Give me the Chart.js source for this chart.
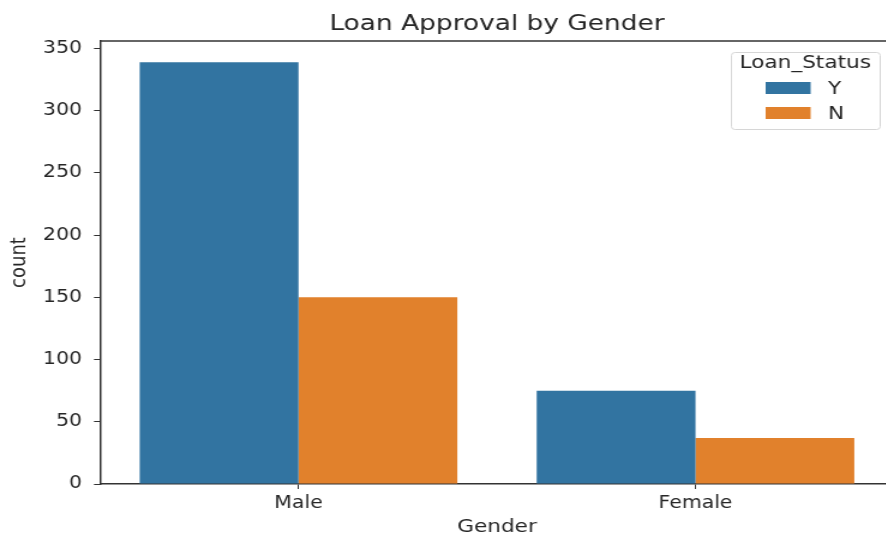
<!DOCTYPE html>
<html lang="en">
<head>
    <meta charset="UTF-8">
    <title>Loan Approval by Gender</title>
    <script src="https://cdn.jsdelivr.net/npm/chart.js"></script>
    <style>
        body { margin: 0; padding: 0; background: #ffffff; overflow: hidden; }
        /* the source picture is stretched sideways, so the whole chart is too */
        #wrap { width: 750px; height: 538px; transform: scaleX(1.2); transform-origin: 0 0; }
    </style>
</head>
<body>
    <div id="wrap">
        <canvas id="loanChart" width="750" height="538"></canvas>
    </div>

    <script>
        const genders = ["Male", "Female"];
        const statusLabels = ["Y", "N"];
        const countY = [339, 75];
        const countN = [150, 37];
        const yTicks = [0, 50, 100, 150, 200, 250, 300, 350];

        const blue = "#3274a1";
        const orange = "#e1812c";
        const ink = "#262626";
        const font = "'DejaVu Sans', sans-serif";

        // title, top spine and legend box drawn by hand
        const extras = {
            id: "extras",
            afterDraw(chart) {
                const ctx = chart.ctx;
                const area = chart.chartArea;
                ctx.save();

                ctx.strokeStyle = "#333";
                ctx.lineWidth = 1.5;
                ctx.beginPath();
                ctx.moveTo(area.left, area.top);
                ctx.lineTo(area.right, area.top);
                ctx.stroke();

                ctx.fillStyle = ink;
                ctx.font = "22px " + font;
                ctx.textAlign = "center";
                ctx.textBaseline = "middle";
                ctx.fillText("Loan Approval by Gender", (area.left + area.right) / 2, 24);

                // legend
                const lx = 609, ly = 52, lw = 124, lh = 77;
                ctx.fillStyle = "rgba(255,255,255,0.8)";
                ctx.strokeStyle = "#d6d6d6";
                ctx.lineWidth = 1;
                ctx.beginPath();
                ctx.roundRect(lx + 0.5, ly + 0.5, lw, lh, 3);
                ctx.fill();
                ctx.stroke();

                ctx.fillStyle = ink;
                ctx.font = "18px " + font;
                ctx.textAlign = "center";
                ctx.fillText("Loan_Status", lx + lw / 2, ly + 11);

                const colors = [blue, orange];
                statusLabels.forEach((lab, i) => {
                    const cy = ly + 36 + i * 25;
                    ctx.fillStyle = colors[i];
                    ctx.fillRect(638, cy - 6, 37.5, 12);
                    ctx.fillStyle = ink;
                    ctx.textAlign = "left";
                    ctx.fillText(lab, 690, cy + 1);
                });

                ctx.restore();
            }
        };

        new Chart(document.getElementById("loanChart"), {
            type: "bar",
            data: {
                labels: genders,
                datasets: [
                    { label: statusLabels[0], data: countY, backgroundColor: blue },
                    { label: statusLabels[1], data: countN, backgroundColor: orange }
                ]
            },
            options: {
                responsive: false,
                animation: false,
                layout: { padding: { top: 41, right: 5, left: 0, bottom: 0 } },
                datasets: { bar: { categoryPercentage: 0.8, barPercentage: 1.0 } },
                plugins: {
                    legend: { display: false },
                    title: { display: false },
                    tooltip: { enabled: false }
                },
                scales: {
                    x: {
                        offset: true,
                        grid: { offset: false, drawOnChartArea: false, drawTicks: true, tickLength: 5, color: "#333" },
                        border: { display: true, color: "#333", width: 1.5 },
                        ticks: { color: ink, font: { family: font, size: 17 }, padding: 4 },
                        title: { display: true, text: "Gender", color: ink, font: { family: font, size: 18 }, padding: { top: 0, bottom: 0 } },
                        afterFit(scale) { scale.height = 54; }
                    },
                    y: {
                        min: 0,
                        max: 356,
                        afterBuildTicks(scale) { scale.ticks = yTicks.map(v => ({ value: v })); },
                        grid: { drawOnChartArea: false, drawTicks: true, tickLength: 5, color: "#333" },
                        border: { display: true, color: "#333", width: 1.5 },
                        ticks: { color: ink, font: { family: font, size: 17 }, padding: 10 },
                        title: { display: true, text: "count", color: ink, font: { family: font, size: 18 }, padding: { top: 6, bottom: 0 } },
                        afterFit(scale) { scale.width = 83.3; }
                    }
                }
            },
            plugins: [extras]
        });
    </script>
</body>
</html>
